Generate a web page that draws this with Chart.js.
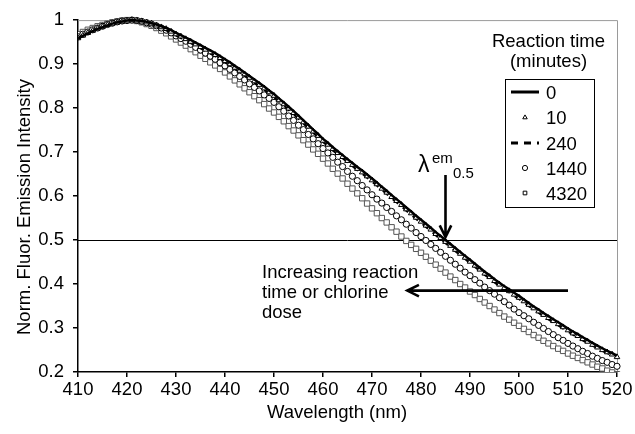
<!DOCTYPE html>
<html>
<head>
<meta charset="utf-8">
<script src="https://cdn.jsdelivr.net/npm/chart.js@4.4.1/dist/chart.umd.min.js"></script>
<style>
  html, body { margin: 0; padding: 0; background: #fff; }
  #wrap { width: 635px; height: 434px; }
</style>
</head>
<body>
<div id="wrap"><canvas id="spectra" width="635" height="434"></canvas></div>
<script>
// emission wavelength (nm)
const wavelength = [
  410, 411, 412, 413, 414, 415, 416, 417, 418, 419,
  420, 421, 422, 423, 424, 425, 426, 427, 428, 429,
  430, 431, 432, 433, 434, 435, 436, 437, 438, 439,
  440, 441, 442, 443, 444, 445, 446, 447, 448, 449,
  450, 451, 452, 453, 454, 455, 456, 457, 458, 459,
  460, 461, 462, 463, 464, 465, 466, 467, 468, 469,
  470, 471, 472, 473, 474, 475, 476, 477, 478, 479,
  480, 481, 482, 483, 484, 485, 486, 487, 488, 489,
  490, 491, 492, 493, 494, 495, 496, 497, 498, 499,
  500, 501, 502, 503, 504, 505, 506, 507, 508, 509,
  510, 511, 512, 513, 514, 515, 516, 517, 518, 519,
  520
];

// normalised intensity, one array per reaction time (min)
const t0 = [
  0.958, 0.964, 0.970, 0.975, 0.980, 0.984, 0.988, 0.992, 0.995, 0.997,
  0.999, 1.000, 0.999, 0.998, 0.996, 0.993, 0.990, 0.986, 0.982, 0.977,
  0.971, 0.966, 0.960, 0.955, 0.949, 0.943, 0.937, 0.931, 0.925, 0.918,
  0.911, 0.904, 0.896, 0.889, 0.881, 0.873, 0.865, 0.857, 0.849, 0.840,
  0.832, 0.822, 0.813, 0.803, 0.793, 0.783, 0.772, 0.762, 0.751, 0.741,
  0.730, 0.721, 0.711, 0.702, 0.693, 0.684, 0.675, 0.666, 0.658, 0.649,
  0.640, 0.631, 0.621, 0.612, 0.602, 0.593, 0.584, 0.574, 0.565, 0.555,
  0.546, 0.537, 0.528, 0.518, 0.509, 0.500, 0.491, 0.482, 0.473, 0.464,
  0.455, 0.446, 0.437, 0.428, 0.420, 0.411, 0.403, 0.395, 0.388, 0.380,
  0.373, 0.365, 0.357, 0.349, 0.342, 0.334, 0.327, 0.320, 0.313, 0.306,
  0.299, 0.292, 0.286, 0.279, 0.273, 0.266, 0.260, 0.254, 0.248, 0.243,
  0.237
];
const t10 = [
  0.959, 0.965, 0.971, 0.976, 0.981, 0.985, 0.989, 0.992, 0.995, 0.997,
  0.999, 1.000, 0.999, 0.997, 0.995, 0.992, 0.988, 0.984, 0.980, 0.974,
  0.968, 0.963, 0.957, 0.951, 0.945, 0.939, 0.933, 0.927, 0.921, 0.914,
  0.907, 0.900, 0.892, 0.885, 0.877, 0.869, 0.861, 0.853, 0.845, 0.836,
  0.828, 0.818, 0.809, 0.799, 0.789, 0.779, 0.768, 0.758, 0.747, 0.737,
  0.726, 0.717, 0.707, 0.698, 0.689, 0.680, 0.671, 0.662, 0.654, 0.645,
  0.636, 0.627, 0.617, 0.608, 0.598, 0.589, 0.580, 0.570, 0.561, 0.551,
  0.542, 0.533, 0.524, 0.514, 0.505, 0.496, 0.487, 0.478, 0.469, 0.460,
  0.451, 0.442, 0.433, 0.424, 0.416, 0.407, 0.399, 0.391, 0.384, 0.376,
  0.369, 0.361, 0.353, 0.345, 0.338, 0.330, 0.323, 0.316, 0.309, 0.302,
  0.295, 0.288, 0.282, 0.275, 0.269, 0.262, 0.256, 0.250, 0.245, 0.240,
  0.234
];
const t240 = [
  0.960, 0.966, 0.971, 0.976, 0.981, 0.985, 0.989, 0.992, 0.995, 0.997,
  0.999, 1.000, 0.999, 0.997, 0.994, 0.991, 0.987, 0.982, 0.977, 0.971,
  0.965, 0.959, 0.953, 0.948, 0.942, 0.936, 0.930, 0.924, 0.918, 0.911,
  0.904, 0.897, 0.889, 0.882, 0.874, 0.866, 0.858, 0.850, 0.842, 0.833,
  0.825, 0.815, 0.806, 0.796, 0.786, 0.776, 0.765, 0.755, 0.744, 0.734,
  0.723, 0.714, 0.704, 0.695, 0.686, 0.677, 0.668, 0.659, 0.651, 0.642,
  0.633, 0.624, 0.614, 0.605, 0.595, 0.586, 0.577, 0.567, 0.558, 0.548,
  0.539, 0.530, 0.521, 0.511, 0.502, 0.493, 0.484, 0.475, 0.466, 0.457,
  0.448, 0.439, 0.430, 0.421, 0.413, 0.404, 0.396, 0.388, 0.381, 0.373,
  0.366, 0.358, 0.350, 0.342, 0.335, 0.327, 0.320, 0.313, 0.306, 0.299,
  0.292, 0.285, 0.279, 0.272, 0.266, 0.260, 0.254, 0.248, 0.243, 0.238,
  0.232
];
const t1440 = [
  0.962, 0.968, 0.973, 0.978, 0.982, 0.986, 0.990, 0.993, 0.996, 0.998,
  0.999, 1.000, 0.999, 0.997, 0.994, 0.991, 0.987, 0.982, 0.977, 0.971,
  0.964, 0.958, 0.952, 0.945, 0.938, 0.932, 0.925, 0.918, 0.911, 0.903,
  0.896, 0.888, 0.880, 0.872, 0.864, 0.855, 0.847, 0.839, 0.830, 0.822,
  0.813, 0.803, 0.793, 0.782, 0.772, 0.761, 0.751, 0.740, 0.730, 0.719,
  0.708, 0.698, 0.688, 0.677, 0.667, 0.656, 0.645, 0.635, 0.624, 0.614,
  0.603, 0.593, 0.584, 0.574, 0.565, 0.555, 0.546, 0.536, 0.527, 0.517,
  0.508, 0.499, 0.490, 0.481, 0.472, 0.463, 0.454, 0.445, 0.436, 0.427,
  0.419, 0.410, 0.402, 0.393, 0.385, 0.377, 0.369, 0.360, 0.352, 0.343,
  0.335, 0.328, 0.321, 0.313, 0.306, 0.299, 0.292, 0.285, 0.278, 0.272,
  0.265, 0.259, 0.253, 0.247, 0.242, 0.236, 0.231, 0.226, 0.222, 0.217,
  0.213
];
const t4320 = [
  0.968, 0.973, 0.978, 0.982, 0.986, 0.989, 0.992, 0.995, 0.997, 0.999,
  1.000, 1.000, 0.998, 0.995, 0.991, 0.987, 0.982, 0.976, 0.970, 0.963,
  0.956, 0.949, 0.942, 0.934, 0.927, 0.919, 0.912, 0.904, 0.897, 0.889,
  0.881, 0.872, 0.863, 0.854, 0.845, 0.836, 0.827, 0.818, 0.809, 0.799,
  0.790, 0.780, 0.770, 0.759, 0.749, 0.738, 0.727, 0.717, 0.706, 0.696,
  0.685, 0.674, 0.662, 0.651, 0.640, 0.628, 0.617, 0.606, 0.595, 0.583,
  0.572, 0.561, 0.550, 0.540, 0.529, 0.519, 0.508, 0.498, 0.489, 0.480,
  0.471, 0.462, 0.453, 0.444, 0.435, 0.426, 0.417, 0.409, 0.400, 0.392,
  0.383, 0.375, 0.366, 0.358, 0.350, 0.342, 0.334, 0.326, 0.319, 0.312,
  0.305, 0.298, 0.291, 0.284, 0.278, 0.271, 0.265, 0.259, 0.253, 0.248,
  0.242, 0.237, 0.232, 0.227, 0.222, 0.217, 0.212, 0.208, 0.203, 0.199,
  0.195
];

const seriesNames = ['0', '10', '240', '1440', '4320'];
const xTickValues = [410, 420, 430, 440, 450, 460, 470, 480, 490, 500, 510, 520];
const yTickValues = [0.2, 0.3, 0.4, 0.5, 0.6, 0.7, 0.8, 0.9, 1];
const yTickLabels = ['0.2', '0.3', '0.4', '0.5', '0.6', '0.7', '0.8', '0.9', '1'];
const halfLevel = 0.5;

const FONT = '"Liberation Sans", Arial, sans-serif';
Chart.defaults.font.family = FONT;
Chart.defaults.font.size = 18.5;
Chart.defaults.color = '#000';

const pts = arr => wavelength.map((w, i) => ({ x: w, y: arr[i] }));

function arrow(ctx, x1, y1, x2, y2) {
  const a = Math.atan2(y2 - y1, x2 - x1);
  const len = 13, spread = 0.46;
  ctx.beginPath();
  ctx.moveTo(x1, y1);
  ctx.lineTo(x2, y2);
  ctx.moveTo(x2 - len * Math.cos(a - spread), y2 - len * Math.sin(a - spread));
  ctx.lineTo(x2, y2);
  ctx.lineTo(x2 - len * Math.cos(a + spread), y2 - len * Math.sin(a + spread));
  ctx.stroke();
}

const overlay = {
  id: 'overlay',
  beforeDatasetsDraw(chart) {
    const { ctx, chartArea: a, scales: { y } } = chart;
    ctx.save();
    ctx.lineWidth = 1;
    ctx.strokeStyle = '#9a9a9a';
    ctx.beginPath();
    ctx.moveTo(a.left, a.top + 0.5);
    ctx.lineTo(a.right + 0.5, a.top + 0.5);
    ctx.lineTo(a.right + 0.5, a.bottom);
    ctx.stroke();
    const yh = Math.round(y.getPixelForValue(halfLevel)) + 0.5;
    ctx.strokeStyle = '#000';
    ctx.beginPath();
    ctx.moveTo(a.left, yh);
    ctx.lineTo(a.right, yh);
    ctx.stroke();
    ctx.restore();
  },
  afterDraw(chart) {
    const { ctx, scales: { x, y } } = chart;
    ctx.save();
    ctx.fillStyle = '#000';
    ctx.strokeStyle = '#000';

    // axis titles
    ctx.font = '18.5px ' + FONT;
    ctx.textAlign = 'center';
    ctx.textBaseline = 'middle';
    ctx.fillText('Wavelength (nm)', 337, 413);
    ctx.save();
    ctx.translate(25, 207);
    ctx.rotate(-Math.PI / 2);
    ctx.fillText('Norm. Fluor. Emission Intensity', 0, 0);
    ctx.restore();

    // lambda em 0.5 marker
    ctx.textAlign = 'left';
    ctx.textBaseline = 'alphabetic';
    ctx.font = '23px ' + FONT;
    ctx.fillText('λ', 418, 172);
    ctx.font = '15px ' + FONT;
    ctx.fillText('em', 432, 163);
    ctx.fillText('0.5', 453, 178);
    ctx.lineWidth = 2.6;
    const xa = x.getPixelForValue(485);
    arrow(ctx, xa, 175, xa, y.getPixelForValue(halfLevel) - 3);

    // shift arrow + note
    const ya = y.getPixelForValue(0.385);
    arrow(ctx, x.getPixelForValue(510), ya, x.getPixelForValue(477.2), ya);
    ctx.font = '18.5px ' + FONT;
    ctx.fillText('Increasing reaction', 262, 278);
    ctx.fillText('time or chlorine', 262, 298);
    ctx.fillText('dose', 262, 318);

    // legend
    ctx.textAlign = 'center';
    ctx.fillText('Reaction time', 548.5, 47);
    ctx.fillText('(minutes)', 548.5, 67);
    ctx.lineWidth = 1;
    ctx.strokeRect(505.5, 79.5, 89, 128);
    const rows = [92, 117.5, 143, 168, 193];
    const sx = 525;
    ctx.textAlign = 'left';
    seriesNames.forEach((name, i) => {
      const ry = rows[i];
      ctx.fillStyle = '#000';
      ctx.fillText(name, 546, ry + 6.5);
      const ds = chart.data.datasets[i];
      if (ds.pointRadius === 0) {
        ctx.lineWidth = 3;
        ctx.setLineDash(ds.borderDash || []);
        ctx.beginPath();
        ctx.moveTo(511, ry);
        ctx.lineTo(539, ry);
        ctx.stroke();
        ctx.setLineDash([]);
      } else {
        ctx.fillStyle = '#fff';
        ctx.strokeStyle = '#000';
        ctx.lineWidth = 1;
        Chart.helpers.drawPoint(ctx, { pointStyle: ds.pointStyle, radius: 2.6, borderWidth: 1, rotation: 0 }, sx, ry);
      }
    });
    ctx.restore();
  }
};

const axisGrid = { drawOnChartArea: false, drawTicks: true, tickLength: 5, color: '#000', lineWidth: 1.5 };

new Chart(document.getElementById('spectra'), {
  type: 'line',
  data: {
    datasets: [
      { label: seriesNames[0], data: pts(t0), borderColor: '#000', borderWidth: 2.5, pointRadius: 0 },
      { label: seriesNames[1], data: pts(t10), showLine: false, pointStyle: 'triangle', pointRadius: 3.2,
        pointBorderWidth: 1, pointBorderColor: '#000', pointBackgroundColor: '#fff' },
      { label: seriesNames[2], data: pts(t240), borderColor: '#000', borderWidth: 2.2, borderDash: [7, 6], pointRadius: 0 },
      { label: seriesNames[3], data: pts(t1440), showLine: false, pointStyle: 'circle', pointRadius: 3.1,
        pointBorderWidth: 1, pointBorderColor: '#000', pointBackgroundColor: '#fff' },
      { label: seriesNames[4], data: pts(t4320), showLine: false, pointStyle: 'rect', pointRadius: 3.8,
        pointBorderWidth: 1, pointBorderColor: '#555', pointBackgroundColor: '#fff' }
    ].map(d => Object.assign({ fill: false, clip: { left: 0, top: 4, right: 4, bottom: 0 } }, d))
  },
  options: {
    responsive: false,
    animation: false,
    devicePixelRatio: 1,
    layout: { padding: { left: 0, top: 17, right: 18, bottom: 0 } },
    plugins: { legend: { display: false }, tooltip: { enabled: false } },
    scales: {
      x: {
        type: 'linear', min: 410, max: 520,
        afterBuildTicks: s => { s.ticks = xTickValues.map(v => ({ value: v })); },
        afterFit: s => { s.height = 62; },
        grid: axisGrid,
        border: { color: '#000', width: 1.5 },
        ticks: { padding: 2, maxRotation: 0, autoSkip: false }
      },
      y: {
        min: 0.2, max: 1,
        afterBuildTicks: s => { s.ticks = yTickValues.map(v => ({ value: v })); },
        afterFit: s => { s.width = 78; },
        grid: axisGrid,
        border: { color: '#000', width: 1.5 },
        ticks: { padding: 9, autoSkip: false, callback: (v, i) => yTickLabels[i] }
      }
    }
  },
  plugins: [overlay]
});
</script>
</body>
</html>
